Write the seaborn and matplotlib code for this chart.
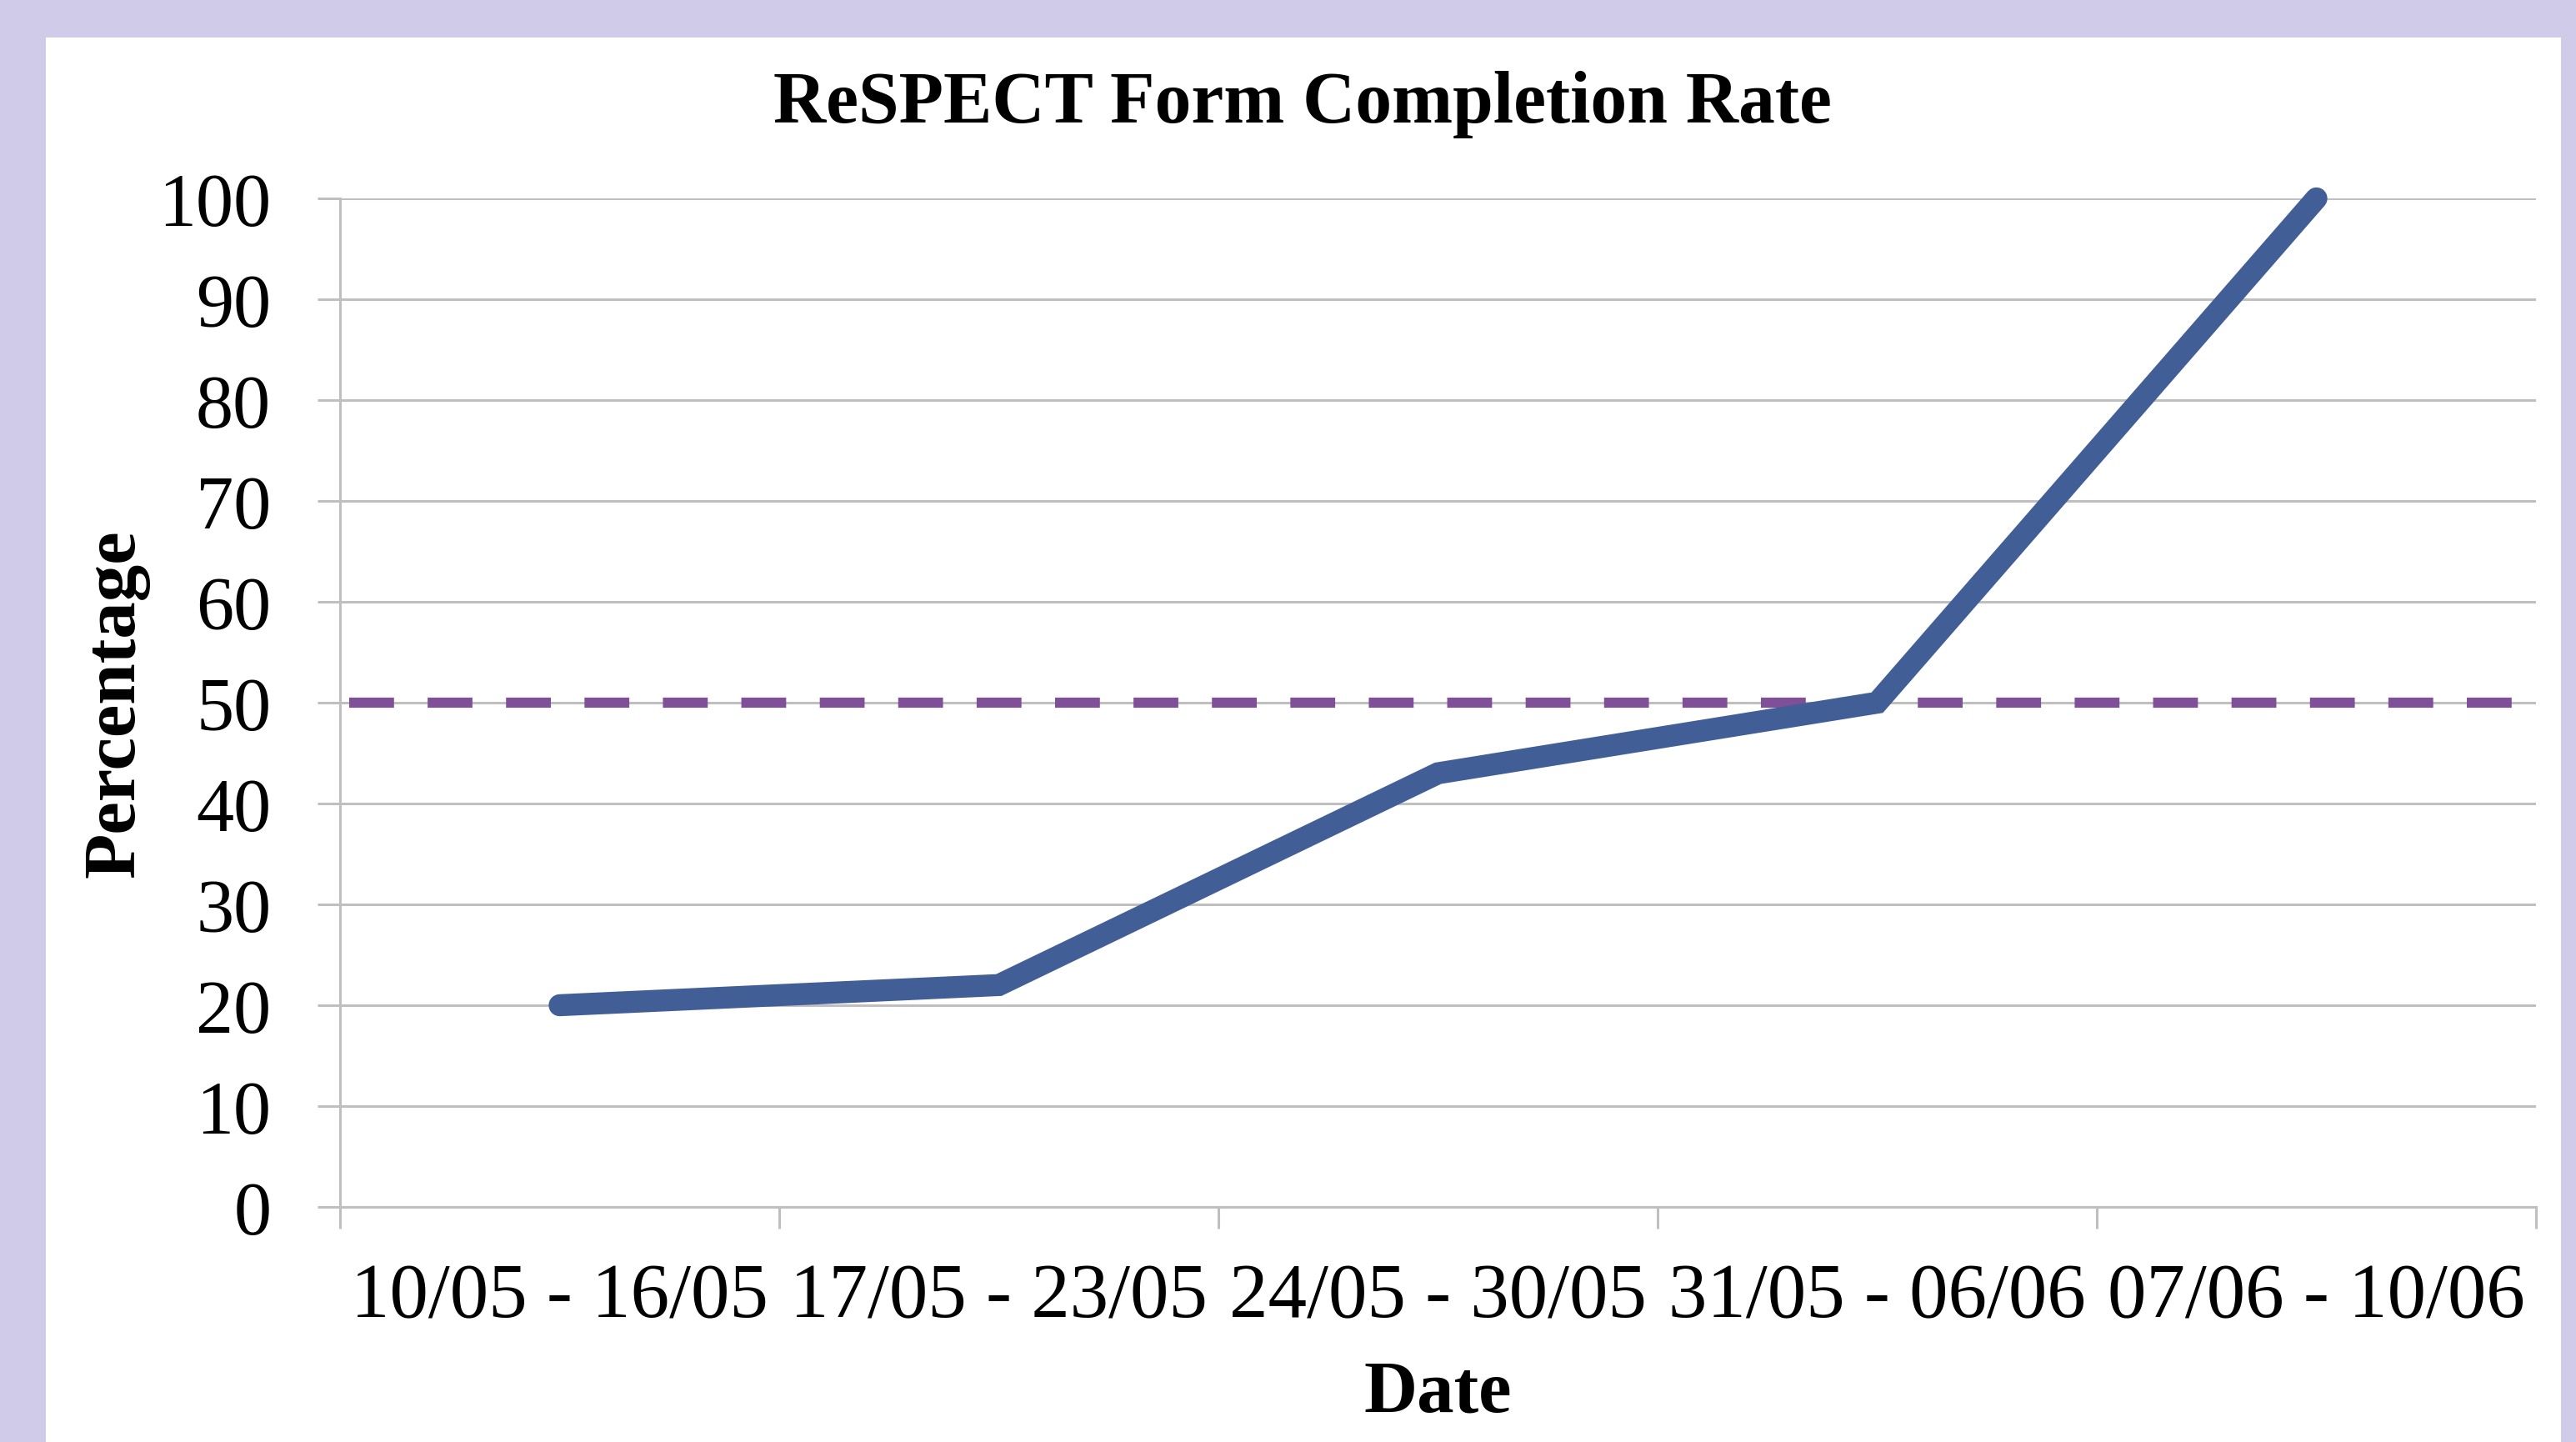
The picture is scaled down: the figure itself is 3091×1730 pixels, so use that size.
import matplotlib
matplotlib.use("Agg")
import matplotlib.pyplot as plt
import seaborn as sns
import pandas as pd
from matplotlib.patches import Rectangle
from matplotlib.ticker import FixedLocator

# Data
weeks = ["10/05 - 16/05", "17/05 - 23/05", "24/05 - 30/05", "31/05 - 06/06", "07/06 - 10/06"]
completion = [20, 22, 43, 50, 100]
target = 50
y_ticks = [0, 10, 20, 30, 40, 50, 60, 70, 80, 90, 100]

sns.set_theme(style="white")
plt.rcParams['font.family'] = ['Liberation Serif', 'DejaVu Serif']
plt.rcParams['text.color'] = 'black'
plt.rcParams['axes.labelcolor'] = 'black'

W, H = 3091, 1731
fig = plt.figure(figsize=(W / 100, H / 100), dpi=100)
fig.patch.set_facecolor("#d0cbe9")
panel = Rectangle((55 / W, 0), (3073 - 55) / W, (H - 46) / H,
                  transform=fig.transFigure, facecolor="white",
                  edgecolor="none", zorder=-10)
fig.patches.append(panel)

ax = fig.add_axes([408 / W, 1 - 1449 / H, (3043 - 408) / W, (1449 - 239) / H])
ax.set_facecolor("none")

df = pd.DataFrame({"Week": weeks, "Percentage": completion})
sns.lineplot(data=df, x="Week", y="Percentage", ax=ax, color="#425e97",
             linewidth=19, solid_capstyle="round", solid_joinstyle="miter",
             clip_on=False, zorder=5)

ax.axhline(target, xmin=0.004, xmax=1.003, color="#7f4f97", linewidth=8.8,
           linestyle=(0, (4.4, 3.3)), dash_capstyle="butt", zorder=4, clip_on=False)

ax.set_xlim(-0.5, len(weeks) - 0.5)
ax.set_ylim(0, 100)
ax.set_yticks(y_ticks)
ax.set_yticklabels([str(v) for v in y_ticks], fontsize=65)
ax.set_xticks(range(len(weeks)))
ax.set_xticklabels(weeks, fontsize=67)
ax.xaxis.set_minor_locator(FixedLocator([i - 0.5 for i in range(len(weeks) + 1)]))

grid_c = "#bfbfbf"
ax.yaxis.grid(True, color=grid_c, linewidth=2.2, zorder=1)
ax.xaxis.grid(False)
for s in ["top", "right"]:
    ax.spines[s].set_visible(False)
for s in ["left", "bottom"]:
    ax.spines[s].set_color(grid_c)
    ax.spines[s].set_linewidth(2.2)

ax.tick_params(axis="y", which="major", direction="out", length=19.5, width=2.2,
               color=grid_c, pad=40, left=True, labelcolor="black")
ax.tick_params(axis="x", which="major", length=0, pad=48, labelcolor="black")
ax.tick_params(axis="x", which="minor", direction="out", length=19, width=2.2,
               color=grid_c, bottom=True)

ax.set_xlabel("Date", fontsize=64, fontweight="bold", labelpad=22)
ax.set_ylabel("Percentage", fontsize=64, fontweight="bold", labelpad=8)

fig.text(1563 / W, 1 - 126 / H, "ReSPECT Form Completion Rate", fontsize=63,
         fontweight="bold", ha="center", va="center", color="black")

fig.savefig("out.png", dpi=100, facecolor=fig.get_facecolor())
